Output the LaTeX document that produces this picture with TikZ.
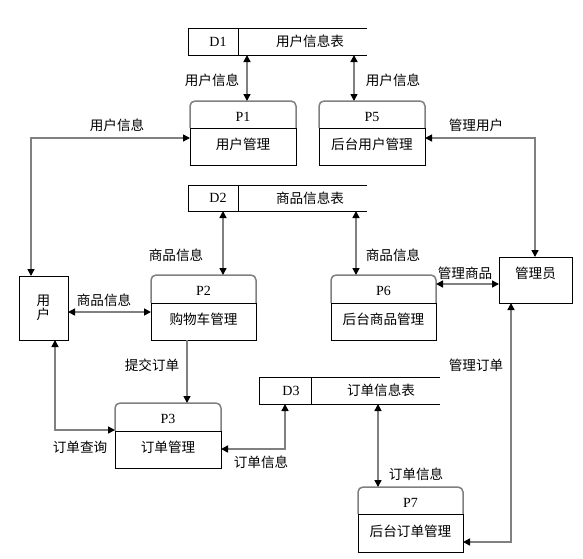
\documentclass[tikz,border=0pt]{standalone}
\usepackage{fontspec}
\setmainfont{Liberation Serif}
\newfontfamily\cjk{Noto Sans CJK SC}
\usetikzlibrary{arrows.meta}
\definecolor{lin}{RGB}{128,128,128}
\tikzset{
  cjkt/.style={font=\cjk\fontsize{13.6}{14.5}\selectfont, inner sep=0pt},
  pl/.style={font=\fontsize{14}{14}\selectfont, inner sep=0pt},
  conn/.style={draw=lin, line width=1.5pt, {Triangle[length=7pt,width=7pt,color=black]}-{Triangle[length=7pt,width=7pt,color=black]}},
  connone/.style={draw=lin, line width=1.5pt, -{Triangle[length=7pt,width=7pt,color=black]}},
  boxline/.style={draw=black, line width=0.8pt},
  hdrline/.style={draw=lin, line width=1.5pt, rounded corners=5pt},
  area/.style={inner sep=0pt, outer sep=0pt, draw=none},
}
\newcommand\procbox[8]{%
  \node[area, minimum width={#4-#2}, minimum height={#6-#3}] (#1) at ({(#2+#4)/2},{(#3+#6)/2}) {};
  \draw[hdrline] (#2,#5) -- (#2,#3) -- (#4,#3) -- (#4,#5);
  \draw[boxline] (#2,#5) rectangle (#4,#6);
  \node[pl] (#1-id) at ({(#2+#4)/2},{(#3+#5)/2+2}) {#7};
  \node[cjkt] (#1-t) at ({(#2+#4)/2},{(#5+#6)/2-2}) {#8};
}
\newcommand\store[9]{%
  \node[area, minimum width={#4-#2}, minimum height={#5-#3}] (#1) at ({(#2+#4)/2},{(#3+#5)/2}) {};
  \draw[boxline] (#4,#3) -- (#2,#3) -- (#2,#5) -- (#4,#5);
  \draw[boxline] (#6,#3) -- (#6,#5);
  \node[pl] (#1-id) at (#7,{(#3+#5)/2}) {#1};
  \node[cjkt] (#1-t) at (#9,{(#3+#5)/2}) {#8};
}
\begin{document}
\begin{tikzpicture}[x=1pt,y=-1pt]
\fill[white] (0,0) rectangle (583,558);
\useasboundingbox (0,0) rectangle (583,558);

% data stores
\store{D1}{188}{28}{367}{55}{238}{218}{用户信息表}{310}
\store{D2}{188}{185}{367}{211}{238}{218}{商品信息表}{310}
\store{D3}{259}{377}{440}{404}{311}{291}{订单信息表}{381}

% processes
\procbox{P1}{190}{101}{296}{128}{165}{P1}{用户管理}
\procbox{P5}{319}{101}{425}{128}{165}{P5}{后台用户管理}
\procbox{P2}{151}{275}{256}{303}{340}{P2}{购物车管理}
\procbox{P6}{331}{275}{436}{303}{340}{P6}{后台商品管理}
\procbox{P3}{115}{403}{221}{431}{468}{P3}{订单管理}
\procbox{P7}{358}{487}{463}{514}{552}{P7}{后台订单管理}

% external entities
\node[area, boxline, draw, minimum width=49, minimum height=64, align=center, cjkt] (U) at (43.5,308) {用\\户};
\node[area, boxline, draw, minimum width=73, minimum height=46] (A) at (535.5,280) {};
\node[cjkt] (A-t) at (535.5,273) {管理员};

% helper coordinates
\coordinate (x1) at (247,0);
\coordinate (x5) at (354,0);
\coordinate (x2) at (223,0);
\coordinate (x6) at (356,0);
\coordinate (xU1) at (31,0);
\coordinate (xU2) at (55,0);
\coordinate (xA1) at (535,0);
\coordinate (xA2) at (511,0);
\coordinate (xD3a) at (378,0);
\coordinate (xD3b) at (285,0);
\coordinate (xP2) at (187,0);
\coordinate (yA) at (0,138);
\coordinate (yB) at (0,312);
\coordinate (yC) at (0,284);
\coordinate (yD) at (0,542);
\coordinate (yE) at (0,430);
\coordinate (yF) at (0,449);

% connectors
\draw[conn] (D1.south -| x1) -- (P1.north -| x1);
\draw[conn] (D1.south -| x5) -- (P5.north -| x5);
\draw[conn] (D2.south -| x2) -- (P2.north -| x2);
\draw[conn] (D2.south -| x6) -- (P6.north -| x6);
\draw[conn] (U.north -| xU1) |- (P1.west |- yA);
\draw[conn] (U.east |- yB) -- (P2.west |- yB);
\draw[conn] (P5.east |- yA) -| (A.north -| xA1);
\draw[conn] (P6.east |- yC) -- (A.west |- yC);
\draw[conn] (A.south -| xA2) |- (P7.east |- yD);
\draw[conn] (D3.south -| xD3a) -- (P7.north -| xD3a);
\draw[connone] (P2.south -| xP2) -- (P3.north -| xP2);
\draw[conn] (U.south -| xU2) |- (P3.west |- yE);
\draw[conn] (P3.east |- yF) -| (D3.south -| xD3b);

% labels
\node[cjkt] (l1) at (212,80) {用户信息};
\node[cjkt] (l2) at (393,80) {用户信息};
\node[cjkt] (l3) at (117,125) {用户信息};
\node[cjkt] (l4) at (104,300) {商品信息};
\node[cjkt] (l5) at (176,255) {商品信息};
\node[cjkt] (l6) at (393,255) {商品信息};
\node[cjkt] (l7) at (476,125) {管理用户};
\node[cjkt] (l8) at (465,273) {管理商品};
\node[cjkt] (l9) at (476,365) {管理订单};
\node[cjkt] (l10) at (152,365) {提交订单};
\node[cjkt] (l11) at (80,447) {订单查询};
\node[cjkt] (l12) at (261,462) {订单信息};
\node[cjkt] (l13) at (416,474) {订单信息};
\end{tikzpicture}
\end{document}
